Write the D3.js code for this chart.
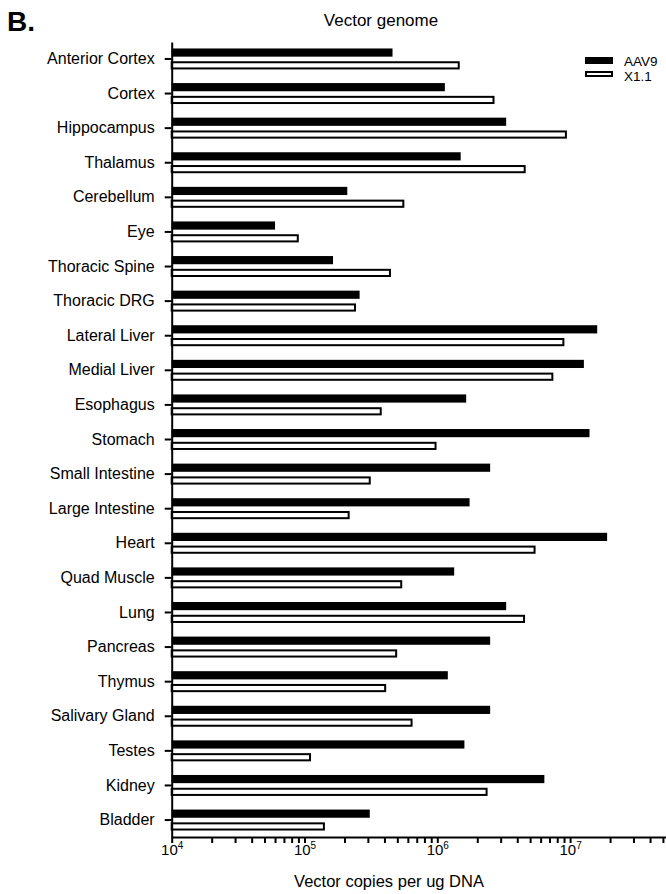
<!DOCTYPE html>
<html>
<head>
<meta charset="utf-8">
<script src="https://cdn.jsdelivr.net/npm/d3@7"></script>
<style>
  body { margin: 0; background: #fff; }
  svg { display: block; font-family: "Liberation Sans", Arial, sans-serif; }
</style>
</head>
<body>
<svg width="666" height="894"></svg>
<script>
const svg = d3.select("svg");

const titleText = "Vector genome";
const xLabel = "Vector copies per ug DNA";

const categories = [
  "Anterior Cortex", "Cortex", "Hippocampus", "Thalamus", "Cerebellum", "Eye",
  "Thoracic Spine", "Thoracic DRG", "Lateral Liver", "Medial Liver", "Esophagus",
  "Stomach", "Small Intestine", "Large Intestine", "Heart", "Quad Muscle", "Lung",
  "Pancreas", "Thymus", "Salivary Gland", "Testes", "Kidney", "Bladder"
];
const seriesNames = ["AAV9", "X1.1"];
const aav9 = [4.6e5, 1.14e6, 3.3e6, 1.5e6, 2.1e5, 6.0e4, 1.64e5, 2.6e5, 1.6e7, 1.27e7, 1.65e6,
  1.4e7, 2.5e6, 1.75e6, 1.9e7, 1.34e6, 3.3e6, 2.5e6, 1.2e6, 2.5e6, 1.6e6, 6.4e6, 3.1e5];
const x11 = [1.45e6, 2.65e6, 9.3e6, 4.55e6, 5.55e5, 8.9e4, 4.4e5, 2.4e5, 8.9e6, 7.35e6, 3.75e5,
  9.7e5, 3.1e5, 2.15e5, 5.4e6, 5.35e5, 4.5e6, 4.9e5, 4.05e5, 6.4e5, 1.1e5, 2.35e6, 1.4e5];
// axis runs off the right edge of the cropped figure
const xDomain = [1e4, 5.3e7];

const plotLeft = 171.7, plotTop = 42, plotBottom = 837;
const decade = 132.8;

const rows = categories.map((c, i) => ({ cat: c, AAV9: aav9[i], "X1.1": x11[i] }));

const x = d3.scaleLog()
    .domain(xDomain)
    .range([plotLeft, plotLeft + decade * Math.log10(xDomain[1] / xDomain[0])]);

const y = d3.scaleBand()
    .domain(categories)
    .range([plotTop, plotBottom])
    .paddingInner(0.394)
    .paddingOuter(0.187);

const ySub = d3.scaleBand()
    .domain(seriesNames)
    .range([0, y.bandwidth()])
    .paddingInner(0.36);

// bars
const groups = svg.append("g").selectAll("g").data(rows)
  .enter().append("g")
    .attr("transform", d => `translate(0,${y(d.cat)})`);

groups.append("rect")
    .attr("x", x(xDomain[0]))
    .attr("y", ySub("AAV9"))
    .attr("width", d => x(d.AAV9) - x(xDomain[0]))
    .attr("height", ySub.bandwidth())
    .attr("fill", "#000");

groups.append("rect")
    .attr("x", x(xDomain[0]))
    .attr("y", ySub("X1.1") + 1)
    .attr("width", d => x(d["X1.1"]) - x(xDomain[0]))
    .attr("height", ySub.bandwidth() - 2)
    .attr("fill", "#fff")
    .attr("stroke", "#000")
    .attr("stroke-width", 2);

// y axis
const yAxis = svg.append("g")
    .attr("transform", `translate(${plotLeft},0)`)
    .call(d3.axisLeft(y).tickSize(7).tickSizeOuter(0).tickPadding(10));
yAxis.selectAll("text").attr("font-size", 16).attr("fill", "#000");
yAxis.attr("font-family", null);

// x axis, labels only on the decades
const xAxis = svg.append("g")
    .attr("transform", `translate(0,${plotBottom})`)
    .call(d3.axisBottom(x).tickSize(6).tickSizeOuter(0).tickPadding(8).tickFormat(""));
xAxis.attr("font-family", null);
xAxis.selectAll(".tick text").each(function(d) {
  const e = Math.round(Math.log10(d));
  if (Math.abs(Math.log10(d) - e) > 1e-9) return;
  const t = d3.select(this).attr("font-size", 15).attr("fill", "#000")
      .attr("dy", "0.25em");
  t.append("tspan").text("10");
  t.append("tspan").text(e).attr("font-size", 10).attr("dy", "-0.55em");
});

svg.selectAll(".domain, .tick line").attr("stroke", "#000").attr("stroke-width", 2);

// titles
svg.append("text")
    .attr("x", 381).attr("y", 26)
    .attr("text-anchor", "middle")
    .attr("font-size", 17)
    .text(titleText);

svg.append("text")
    .attr("x", 389).attr("y", 887)
    .attr("text-anchor", "middle")
    .attr("font-size", 16.5)
    .text(xLabel);

svg.append("text")
    .attr("x", 7).attr("y", 31)
    .attr("font-size", 28)
    .attr("font-weight", "bold")
    .text("B.");

// legend
const legend = svg.append("g").attr("transform", "translate(585,57)");
legend.append("rect").attr("width", 28).attr("height", 7).attr("fill", "#000");
legend.append("rect").attr("y", 15).attr("width", 26).attr("height", 4)
    .attr("x", 1).attr("fill", "#fff").attr("stroke", "#000").attr("stroke-width", 2);
legend.selectAll("text").data(seriesNames)
  .enter().append("text")
    .attr("x", 39)
    .attr("y", (d, i) => 8.5 + i * 15.5)
    .attr("font-size", 13.5)
    .text(d => d);
</script>
</body>
</html>
